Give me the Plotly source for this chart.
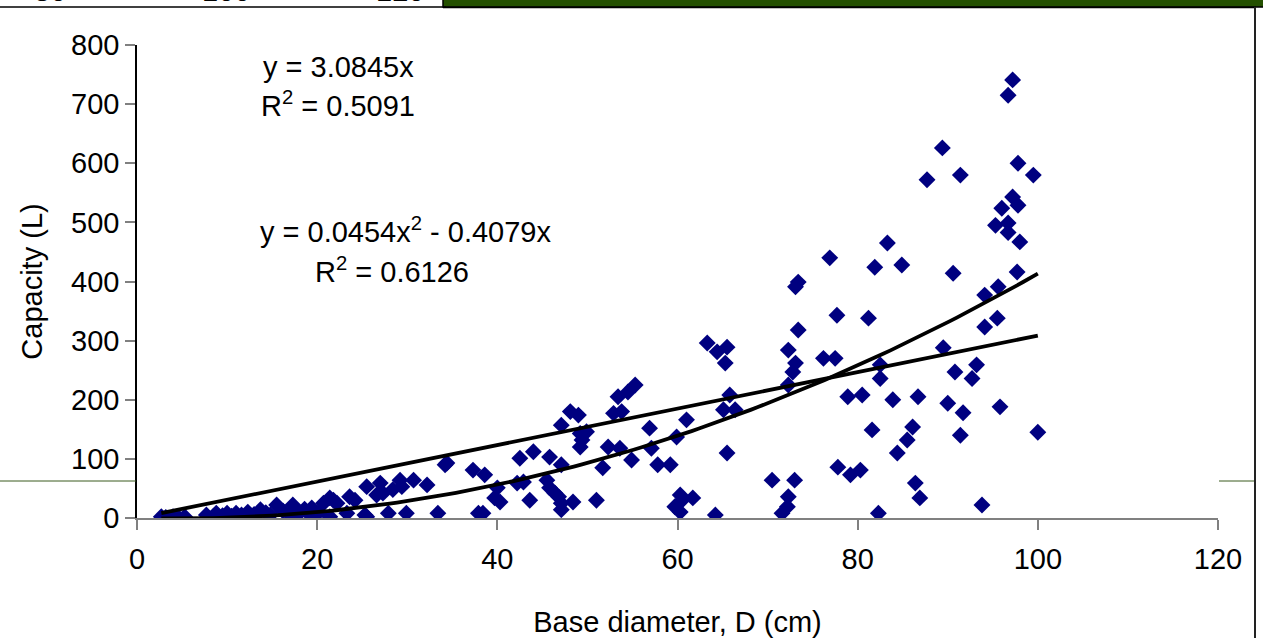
import numpy as np
import plotly.graph_objects as go

# ---- data ----
diameter_cm = [
    2.7, 3.2, 4.0, 4.6, 5.3, 7.7, 8.5, 8.8, 9.5, 10.0, 10.5, 11.0, 11.6, 12.3, 13.0, 13.7, 14.3, 14.8,
    15.5, 16.2, 17.0, 17.3, 18.0, 18.6, 19.4, 19.4, 20.2, 20.7, 21.4, 21.4, 21.8, 22.2, 23.3, 23.6,
    24.2, 25.3, 25.5, 25.5, 26.6, 27.0, 27.3, 27.9, 28.4, 29.2, 29.4, 29.9, 30.7, 32.2, 33.4, 34.2,
    34.4, 37.3, 37.9, 38.4, 38.6, 39.7, 40.0, 40.3,
    42.2, 42.5, 42.9, 43.6, 44.0, 45.5, 45.8, 45.8, 46.4, 46.8, 47.1, 47.1, 47.1, 47.1, 48.1, 48.4,
    49.0, 49.2, 49.2, 49.4, 49.9, 51.0, 51.7, 52.3, 52.9, 53.4, 53.6, 53.8, 54.5, 54.9, 55.3, 56.9,
    57.1, 57.8, 59.2, 59.7, 59.9, 60.3, 60.3, 60.5, 61.0, 61.7, 63.3, 64.2, 64.4, 65.1, 65.3, 65.5,
    65.5, 65.8, 66.4,
    70.5, 71.6, 72.2, 72.3, 72.3, 72.3, 72.8, 73.0, 73.1, 73.1, 73.4, 73.4, 76.2, 76.9, 77.5, 77.7,
    77.8, 78.9, 79.2, 80.3, 80.5, 81.2, 81.6, 81.9, 82.3, 82.5, 82.5, 83.3, 83.9, 84.4, 84.9, 85.5,
    86.1, 86.4, 86.7, 86.9, 87.7, 89.4, 89.5, 90.0, 90.6, 90.8, 91.4, 91.4, 91.7, 92.7, 93.2, 93.8,
    94.1, 94.1, 95.3, 95.5, 95.6, 95.8, 96.0, 96.7, 96.7, 96.7, 97.2, 97.2, 97.7, 97.8, 97.8, 98.0,
    99.5, 100.0,
]
capacity_l = [
    2, 1, 2, 1, 2, 5, 3, 8, 4, 8, 3, 8, 5, 10, 6, 14, 9, 5,
    22, 12, 5, 22, 8, 15, 17, 2, 10, 25, 34, 2, 30, 25, 8, 36,
    30, 5, 53, 2, 39, 59, 42, 8, 48, 64, 53, 8, 64, 56, 8, 90,
    93, 81, 8, 8, 73, 34, 51, 27,
    59, 101, 61, 30, 112, 64, 103, 51, 42, 36, 157, 90, 25, 14, 180, 27,
    174, 143, 120, 132, 146, 30, 85, 120, 177, 205, 118, 180, 213, 98, 225, 152,
    118, 90, 90, 19, 137, 39, 10, 30, 166, 34, 296, 5, 281, 183, 262, 289,
    110, 208, 183,
    64, 8, 19, 36, 284, 225, 247, 64, 391, 262, 399, 318, 270, 440, 270, 343,
    86, 205, 73, 81, 208, 338, 149, 424, 8, 259, 236, 465, 200, 110, 428, 132,
    154, 59, 205, 34, 572, 626, 288, 194, 414, 247, 580, 140, 178, 236, 259, 22,
    377, 323, 495, 338, 391, 188, 524, 715, 499, 483, 741, 543, 416, 600, 529, 467,
    580, 145,
]
lin_coef = 3.0845
poly_coef = [0.0454, -0.4079]  # a*x^2 + b*x
x_ticks = [0, 20, 40, 60, 80, 100, 120]
y_ticks = [0, 100, 200, 300, 400, 500, 600, 700, 800]
stray_labels = ["80", "100", "120"]

FONT = "Liberation Sans, Arial, sans-serif"
FS = 29

xmin, xmax = min(diameter_cm), max(diameter_cm)
xl = np.array([xmin, xmax])
xp = np.linspace(xmin, xmax, 120)

fig = go.Figure()
fig.add_trace(go.Scatter(
    x=diameter_cm, y=capacity_l, mode="markers",
    marker=dict(symbol="diamond", size=13, color="#000080", line=dict(width=0)),
    showlegend=False, hoverinfo="x+y"))
fig.add_trace(go.Scatter(
    x=xl, y=lin_coef * xl, mode="lines",
    line=dict(color="black", width=3.8), showlegend=False))
fig.add_trace(go.Scatter(
    x=xp, y=poly_coef[0] * xp**2 + poly_coef[1] * xp, mode="lines",
    line=dict(color="black", width=3.8), showlegend=False))

fig.update_layout(
    width=1263, height=638,
    margin=dict(l=137, r=45, t=45, b=120, autoexpand=False),
    paper_bgcolor="white", plot_bgcolor="white",
    font=dict(family=FONT, size=FS, color="black"),
    xaxis=dict(range=[0, 120], tickvals=x_ticks, ticks="outside", ticklen=10,
               tickcolor="#808080", tickwidth=1.5, showline=True, linecolor="#808080",
               linewidth=1.5, showgrid=False, zeroline=False, ticklabelstandoff=4,
               automargin=False,
               tickfont=dict(size=FS, family=FONT),
               title=dict(text="Base diameter, D (cm)", font=dict(size=FS, family=FONT), standoff=38)),
    yaxis=dict(range=[0, 800], tickvals=y_ticks, ticks="outside", ticklen=10,
               tickcolor="#808080", tickwidth=1.5, showline=True, linecolor="black",
               linewidth=1.5, showgrid=False, zeroline=False, automargin=False,
               tickfont=dict(size=FS, family=FONT),
               title=dict(text="Capacity (L)", font=dict(size=FS, family=FONT), standoff=20)),
)

def px_x(px):
    return (px - 137) / (1218 - 137)

def px_y(py):
    return (518 - py) / (518 - 45)

ann = [
    ("y = 3.0845x", 338, 67),
    ("R<sup>2</sup> = 0.5091", 338, 104),
    ("y = 0.0454x<sup>2</sup> - 0.4079x", 406, 230),
    ("R<sup>2</sup> = 0.6126", 392, 270),
]
for txt, cx, cy in ann:
    fig.add_annotation(text=txt, x=px_x(cx), y=px_y(cy), xref="paper", yref="paper",
                       showarrow=False, xanchor="center", yanchor="middle",
                       font=dict(size=FS, family=FONT, color="black"))

# stray page artefacts (cut-off labels, slide bar and frame)
for lab, cx in zip(stray_labels, [50, 226, 400]):
    fig.add_annotation(text=lab, x=px_x(cx), y=px_y(-9), xref="paper", yref="paper",
                       showarrow=False, xanchor="center", yanchor="middle",
                       font=dict(size=FS, family=FONT, color="black"))

P = dict(xref="paper", yref="paper", layer="above")
shapes = [
    dict(type="rect", x0=px_x(443), x1=px_x(1270), y0=px_y(7), y1=px_y(-5),
         fillcolor="#245000", line=dict(color="black", width=1.5), **P),
    dict(type="line", x0=px_x(0), x1=px_x(446), y0=px_y(7), y1=px_y(7),
         line=dict(color="black", width=1.5), **P),
    dict(type="line", x0=px_x(443), x1=px_x(1256), y0=px_y(7.5), y1=px_y(7.5),
         line=dict(color="black", width=1.5), **P),
    dict(type="line", x0=px_x(1255), x1=px_x(1255), y0=px_y(7), y1=px_y(640),
         line=dict(color="#222222", width=2), **P),
    dict(type="line", x0=px_x(0), x1=px_x(136), y0=px_y(481), y1=px_y(481),
         line=dict(color="#3b5a1e", width=1), **P),
    dict(type="line", x0=px_x(1219), x1=px_x(1254), y0=px_y(481), y1=px_y(481),
         line=dict(color="#3b5a1e", width=1), **P),
]
fig.update_layout(shapes=shapes)

fig.write_html("out.html", config={"displayModeBar": False},
               post_script="document.body.style.margin='0';document.body.style.overflow='hidden';")
